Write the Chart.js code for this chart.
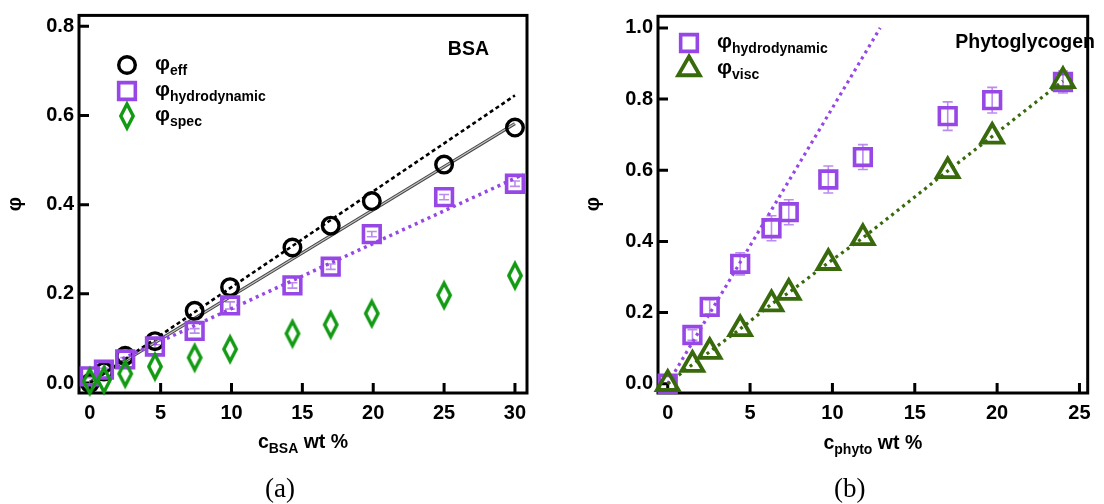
<!DOCTYPE html>
<html>
<head>
<meta charset="utf-8">
<script src="https://cdn.jsdelivr.net/npm/chart.js@4.4.1/dist/chart.umd.min.js"></script>
<style>
  html, body { margin: 0; padding: 0; background: #fff; }
  #wrap { position: relative; width: 1104px; height: 504px; }
  canvas { position: absolute; top: 0; }
  #bsa { left: 0; }
  #phyto { left: 552px; }
</style>
</head>
<body>
<div id="wrap">
  <canvas id="bsa" width="552" height="504"></canvas>
  <canvas id="phyto" width="552" height="504"></canvas>
</div>
<script>
// ---- BSA panel ----
const bsaConc     = [0, 1, 2.5, 4.6, 7.4, 9.9, 14.3, 17, 19.9, 25, 30];
const bsaPhiEff   = [0.0, 0.026, 0.061, 0.094, 0.162, 0.215, 0.304, 0.353, 0.408, 0.49, 0.573];
const bsaPhiHydro = [0.015, 0.03, 0.053, 0.082, 0.117, 0.174, 0.219, 0.261, 0.334, 0.417, 0.447];
const bsaHydroErr = [0.003, 0.003, 0.004, 0.004, 0.005, 0.008, 0.006, 0.006, 0.006, 0.006, 0.006];
const bsaPhiSpec  = [0.004, 0.007, 0.021, 0.037, 0.057, 0.076, 0.111, 0.131, 0.156, 0.197, 0.241];
// straight guide lines (end points)
const bsaEffDotX   = [0, 30];
const bsaEffDotY   = [0, 0.645];
const bsaEffFitX   = [0, 30];
const bsaEffFitY   = [0.002, 0.582];
const bsaHydroFitX = [0.5, 30.6];
const bsaHydroFitY = [0.028, 0.468];

// ---- Phytoglycogen panel ----
const phytoConc     = [0, 1.5, 2.55, 4.4, 6.3, 7.35, 9.75, 11.85, 17, 19.7, 24];
const phytoPhiHydro = [0.0, 0.137, 0.216, 0.337, 0.437, 0.482, 0.574, 0.637, 0.752, 0.797, 0.848];
const phytoHydroErr = [0, 0.015, 0.02, 0.031, 0.035, 0.035, 0.038, 0.035, 0.04, 0.036, 0.031];
const phytoPhiVisc  = [0.0, 0.054, 0.09, 0.154, 0.224, 0.256, 0.34, 0.41, 0.598, 0.695, 0.851];
const phytoHydroFitX = [0, 12.9];
const phytoHydroFitY = [0, 1.0];

const bsaXTicks   = [0, 30, 5];
const bsaYTicks   = [0, 0.8, 0.2];
const phytoXTicks = [0, 25, 5];
const phytoYTicks = [0, 1.0, 0.2];

const PURPLE = '#9747e6';
const PURPLE_ERR = '#bb8cef';
const GREEN = '#139a13';
const OLIVE = '#386a0c';
const FONT = "'Liberation Sans', Arial, sans-serif";

Chart.defaults.font.family = FONT;
Chart.defaults.font.weight = 'bold';
Chart.defaults.font.size = 20;
Chart.defaults.color = '#000';

function pts(xs, ys) {
    return xs.map((x, i) => ({ x: x, y: ys[i] }));
}

// elongated open diamond, used as an image point style
function diamondMarker(color) {
    const c = document.createElement('canvas');
    c.width = 18; c.height = 32;
    const g = c.getContext('2d');
    g.strokeStyle = color;
    g.lineWidth = 3.4;
    g.lineJoin = 'miter';
    g.beginPath();
    g.moveTo(9, 4); g.lineTo(15.2, 16); g.lineTo(9, 28); g.lineTo(2.8, 16);
    g.closePath();
    g.stroke();
    return c;
}

const circleMark   = { pointStyle: 'circle', radius: 8.3, borderWidth: 3.4, color: '#000' };
const squareMark   = { pointStyle: 'rect', radius: 11.8, borderWidth: 3.6, color: PURPLE };
const diamondMark  = { pointStyle: diamondMarker(GREEN), radius: 12, borderWidth: 0, color: GREEN };
const triangleMark = { pointStyle: 'triangle', radius: 12.5, borderWidth: 3.8, color: OLIVE };

function markerSet(label, data, mark, order) {
    return {
        label: label, data: data, order: order, clip: false,
        pointStyle: mark.pointStyle,
        pointRadius: mark.radius,
        pointBorderWidth: mark.borderWidth,
        pointBorderColor: mark.color,
        pointBackgroundColor: 'rgba(0,0,0,0)',
        borderColor: mark.color,
        showLine: false
    };
}

function lineSet(label, data, color, width, dash, order) {
    return {
        label: label, data: data, order: order,
        showLine: true, pointRadius: 0,
        borderColor: color, borderWidth: width, borderDash: dash,
        borderCapStyle: 'butt'
    };
}

function drawMark(ctx, mark, x, y) {
    ctx.save();
    ctx.strokeStyle = mark.color;
    ctx.fillStyle = 'rgba(0,0,0,0)';
    ctx.lineWidth = mark.borderWidth;
    Chart.helpers.drawPoint(ctx, {
        pointStyle: mark.pointStyle, rotation: 0,
        radius: mark.radius, borderWidth: mark.borderWidth
    }, x, y);
    ctx.restore();
}

// text with a lowered subscript part: parts = [[text, isSub], ...]
function drawSubText(ctx, parts, x, baseline, align, size, subSize) {
    const widths = parts.map(p => {
        ctx.font = `bold ${p[1] ? subSize : size}px ${FONT}`;
        return ctx.measureText(p[0]).width;
    });
    const total = widths.reduce((a, b) => a + b, 0);
    let cx = align === 'center' ? x - total / 2 : x;
    ctx.textAlign = 'left';
    ctx.textBaseline = 'alphabetic';
    parts.forEach((p, i) => {
        ctx.font = `bold ${p[1] ? subSize : size}px ${FONT}`;
        ctx.fillText(p[0], cx, baseline + (p[1] ? 4.5 : 0));
        cx += widths[i];
    });
}

// box frame and inward tick marks
const framePlugin = {
    id: 'frame',
    beforeDatasetsDraw(chart) {
        const { ctx, chartArea: a, scales } = chart;
        ctx.save();
        ctx.strokeStyle = '#000';
        ctx.lineWidth = 3;
        ctx.strokeRect(a.left, a.top, a.right - a.left, a.bottom - a.top);
        ctx.beginPath();
        scales.x.ticks.forEach(t => {
            const px = scales.x.getPixelForValue(t.value);
            ctx.moveTo(px, a.bottom); ctx.lineTo(px, a.bottom - 10);
        });
        scales.y.ticks.forEach(t => {
            const py = scales.y.getPixelForValue(t.value);
            ctx.moveTo(a.left, py); ctx.lineTo(a.left + 10, py);
        });
        ctx.stroke();
        ctx.restore();
    }
};

// vertical error bars under the markers
const errorPlugin = {
    id: 'errorBars',
    beforeDatasetsDraw(chart, args, opts) {
        if (!opts.xs) return;
        const { ctx, scales } = chart;
        ctx.save();
        ctx.strokeStyle = opts.color;
        ctx.lineWidth = 1.6;
        ctx.beginPath();
        opts.xs.forEach((x, i) => {
            if (!opts.errs[i]) return;
            const px = scales.x.getPixelForValue(x);
            const hi = scales.y.getPixelForValue(opts.ys[i] + opts.errs[i]);
            const lo = scales.y.getPixelForValue(opts.ys[i] - opts.errs[i]);
            ctx.moveTo(px, hi); ctx.lineTo(px, lo);
            ctx.moveTo(px - 5, hi); ctx.lineTo(px + 5, hi);
            ctx.moveTo(px - 5, lo); ctx.lineTo(px + 5, lo);
        });
        ctx.stroke();
        ctx.restore();
    }
};

// axis titles, panel tag, legend and caption
const textPlugin = {
    id: 'panelText',
    afterDraw(chart, args, o) {
        const { ctx, chartArea: a } = chart;
        const cx = (a.left + a.right) / 2;
        ctx.save();
        ctx.fillStyle = '#000';

        drawSubText(ctx, o.xTitle, cx, o.xTitleY, 'center', 19.5, 14);

        ctx.save();
        ctx.translate(o.yTitleX, 204);
        ctx.rotate(-Math.PI / 2);
        ctx.font = `bold 20px ${FONT}`;
        ctx.textAlign = 'center';
        ctx.textBaseline = 'middle';
        ctx.fillText('φ', 0, 0);
        ctx.restore();

        ctx.font = `bold 19.5px ${FONT}`;
        ctx.textAlign = 'right';
        ctx.textBaseline = 'middle';
        ctx.fillText(o.tag, o.tagX, o.tagY);

        o.legend.forEach(item => {
            drawMark(ctx, item.mark, o.legendX, item.y);
            drawSubText(ctx, [['φ', false], [item.sub, true]], o.legendX + 28, item.y + 5, 'left', 21, 14);
        });

        ctx.font = `27px 'Liberation Serif', 'DejaVu Serif', serif`;
        ctx.textAlign = 'center';
        ctx.textBaseline = 'middle';
        ctx.fillText(o.caption, cx - 23, 490);
        ctx.restore();
    }
};

function fmtX(v) { return String(Math.abs(v) < 1e-9 ? 0 : v); }
function fmtY(v) { return (Math.abs(v) < 1e-9 ? 0 : v).toFixed(1); }

function panelOptions(cfg) {
    return {
        responsive: false,
        animation: false,
        events: [],
        layout: { padding: { left: 0, top: 13, right: cfg.padRight, bottom: 0 } },
        plugins: {
            legend: { display: false },
            tooltip: { enabled: false },
            errorBars: cfg.errors,
            panelText: cfg.text
        },
        scales: {
            x: {
                type: 'linear', min: cfg.xMin, max: cfg.xMax,
                grid: { display: false, drawTicks: false },
                border: { display: false },
                ticks: { stepSize: cfg.xTicks[2], includeBounds: false, padding: 8, maxRotation: 0, autoSkip: false, callback: fmtX },
                afterFit(s) { s.height = 111; s.paddingLeft = 0; s.paddingRight = 0; }
            },
            y: {
                type: 'linear', min: cfg.yMin, max: cfg.yMax,
                grid: { display: false, drawTicks: false },
                border: { display: false },
                ticks: { stepSize: cfg.yTicks[2], includeBounds: false, padding: 5, autoSkip: false, callback: fmtY },
                afterFit(s) { s.width = cfg.yWidth; s.paddingTop = 0; s.paddingBottom = 0; }
            }
        }
    };
}

new Chart(document.getElementById('bsa'), {
    type: 'scatter',
    data: {
        datasets: [
            markerSet('φspec', pts(bsaConc, bsaPhiSpec), diamondMark, 0),
            markerSet('φhydrodynamic', pts(bsaConc, bsaPhiHydro), squareMark, 1),
            markerSet('φeff', pts(bsaConc, bsaPhiEff), circleMark, 2),
            lineSet('hydro fit', pts(bsaHydroFitX, bsaHydroFitY), PURPLE, 3.5, [3, 4], 3),
            lineSet('eff dotted', pts(bsaEffDotX, bsaEffDotY), '#000', 2.6, [4, 3], 4),
            lineSet('eff fit core', pts(bsaEffFitX, bsaEffFitY), '#c4c4c4', 1.2, [], 5),
            lineSet('eff fit', pts(bsaEffFitX, bsaEffFitY), '#454545', 3.2, [], 6)
        ]
    },
    options: panelOptions({
        xMin: -0.76, xMax: 30.85, yMin: -0.0223, yMax: 0.8245,
        xTicks: bsaXTicks, yTicks: bsaYTicks,
        yWidth: 79, padRight: 25,
        errors: { xs: bsaConc, ys: bsaPhiHydro, errs: bsaHydroErr, color: PURPLE_ERR },
        text: {
            xTitle: [['c', false], ['BSA', true], [' wt %', false]], xTitleY: 448,
            yTitleX: 15, tag: 'BSA', tagX: 489, tagY: 50,
            legendX: 127,
            legend: [
                { mark: circleMark, sub: 'eff', y: 65 },
                { mark: squareMark, sub: 'hydrodynamic', y: 91 },
                { mark: diamondMark, sub: 'spec', y: 116 }
            ],
            caption: '(a)'
        }
    }),
    plugins: [framePlugin, errorPlugin, textPlugin]
});

new Chart(document.getElementById('phyto'), {
    type: 'scatter',
    data: {
        datasets: [
            markerSet('φvisc', pts(phytoConc, phytoPhiVisc), triangleMark, 0),
            markerSet('φhydrodynamic', pts(phytoConc, phytoPhiHydro), squareMark, 1),
            lineSet('visc line', pts(phytoConc, phytoPhiVisc), OLIVE, 3.2, [3, 4], 2),
            lineSet('hydro fit', pts(phytoHydroFitX, phytoHydroFitY), PURPLE, 3.2, [3, 4], 3)
        ]
    },
    options: panelOptions({
        xMin: -0.59, xMax: 25.5, yMin: -0.026, yMax: 1.0326,
        xTicks: phytoXTicks, yTicks: phytoYTicks,
        yWidth: 106, padRight: 2,
        errors: { xs: phytoConc, ys: phytoPhiHydro, errs: phytoHydroErr, color: PURPLE_ERR },
        text: {
            xTitle: [['c', false], ['phyto', true], [' wt %', false]], xTitleY: 449,
            yTitleX: 41, tag: 'Phytoglycogen', tagX: 543, tagY: 43,
            legendX: 137,
            legend: [
                { mark: squareMark, sub: 'hydrodynamic', y: 43 },
                { mark: triangleMark, sub: 'visc', y: 69 }
            ],
            caption: '(b)'
        }
    }),
    plugins: [framePlugin, errorPlugin, textPlugin]
});
</script>
</body>
</html>
